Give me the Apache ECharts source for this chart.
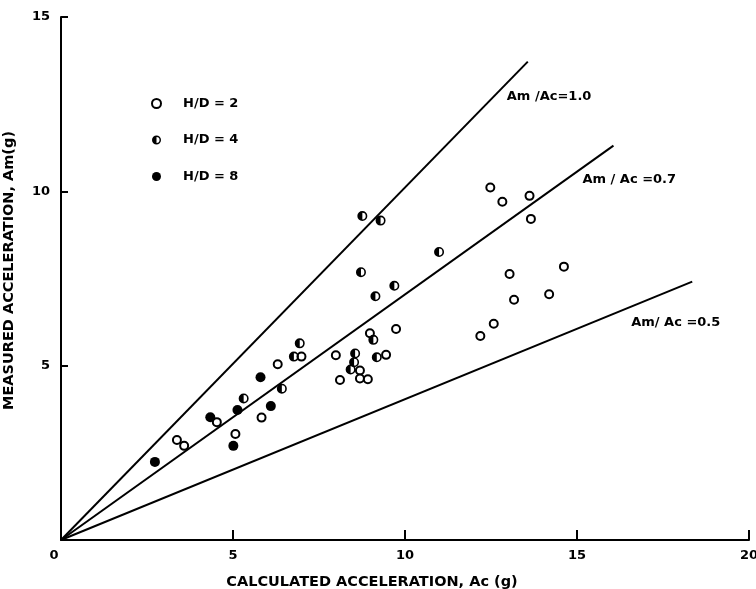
<!DOCTYPE html>
<html>
<head>
<meta charset="utf-8">
<script src="https://cdn.jsdelivr.net/npm/echarts@6/dist/echarts.min.js"></script>
<style>
html,body{margin:0;padding:0;background:#fff;overflow:hidden;}
#chart{width:756px;height:589px;}
</style>
</head>
<body>
<div id="chart"></div>
<script>
// ---- data ----
var seriesNames = ['H/D = 2', 'H/D = 4', 'H/D = 8'];

var hd2 = [[3.37,2.87],[3.58,2.70],[4.53,3.38],[5.07,3.04],[5.83,3.51],[6.30,5.04],[6.99,5.26],
  [7.99,5.30],[8.11,4.59],[8.69,4.86],[8.69,4.63],[8.92,4.61],[8.98,5.93],[9.45,5.31],[9.74,6.05],
  [12.48,10.11],[12.83,9.70],[13.62,9.87],[13.66,9.21],[13.04,7.63],[14.62,7.84],[13.17,6.89],
  [14.19,7.05],[12.58,6.20],[12.19,5.85]];

var hd4 = [[5.31,4.06],[6.42,4.34],[6.77,5.26],[6.94,5.64],[8.55,5.35],[8.52,5.10],[8.42,4.89],
  [9.08,5.74],[9.18,5.24],[8.76,9.29],[9.29,9.16],[10.99,8.26],[8.72,7.68],[9.69,7.29],[9.14,6.99]];

var hd8 = [[2.73,2.24],[4.34,3.52],[5.01,2.70],[5.13,3.73],[5.80,4.67],[6.10,3.84]];

var lineLabels = ['Am /Ac=1.0', 'Am / Ac =0.7', 'Am/ Ac =0.5'];
var lineEnds = [[13.57,13.72],[16.06,11.31],[18.35,7.41]];

var xTicks = [0, 5, 10, 15, 20];
var yTicks = [0, 5, 10, 15];
var xTitle = 'CALCULATED ACCELERATION, Ac (g)';
var yTitle = 'MEASURED ACCELERATION, Am(g)';

// ---- styling ----
var FONT = 'DejaVu Sans';
var halfPath = 'path://M10,0 A10,10 0 1,1 10,20 A10,10 0 1,1 10,0 Z M10,3.2 L10,16.8 A6.8,6.8 0 0,0 10,3.2 Z';
var labelOffsets = [[-21,35],[-31,34],[-61,41]];
var txt = {fontFamily:FONT, fontSize:13, fontWeight:'bold', color:'#000'};

var chart = echarts.init(document.getElementById('chart'), null, {renderer:'canvas'});

var lineSeries = lineEnds.map(function(end, i){
  return {
    type:'line',
    name:lineLabels[i],
    data:[[0,0], {value:end, label:Object.assign({show:true, formatter:lineLabels[i], position:labelOffsets[i],
      align:'left', verticalAlign:'middle'}, txt)}],
    symbol:'circle', symbolSize:0, showSymbol:true,
    lineStyle:{color:'#000', width:2},
    itemStyle:{color:'#000'},
    silent:true, z:1
  };
});

var option = {
  backgroundColor:'#fff',
  animation:false,
  grid:{left:61, right:7, top:17, bottom:49, containLabel:false, outerBoundsMode:'none'},
  legend:{
    data:seriesNames,
    orient:'vertical',
    left:146, top:92,
    itemWidth:9, itemHeight:9, itemGap:23.5,
    textStyle:Object.assign({padding:[0,0,0,17]}, txt),
    selectedMode:false
  },
  xAxis:{
    type:'value', min:0, max:20, interval:5,
    name:xTitle, nameLocation:'middle', nameGap:35,
    nameTextStyle:{fontFamily:FONT, fontSize:14.5, fontWeight:'bold', color:'#000', padding:[0,66,0,0]},
    axisLine:{show:true, onZero:false, lineStyle:{color:'#000', width:2}},
    axisTick:{show:true, inside:true, length:10, lineStyle:{color:'#000', width:2}},
    axisLabel:Object.assign({margin:9,
      formatter:function(v){ return v===0 ? '{z|0}' : String(v); },
      rich:{z:Object.assign({padding:[0,14,0,0]}, txt)}}, txt),
    splitLine:{show:false}
  },
  yAxis:{
    type:'value', min:0, max:15, interval:5,
    name:yTitle, nameLocation:'middle', nameGap:44, nameRotate:90,
    nameTextStyle:{fontFamily:FONT, fontSize:14.5, fontWeight:'bold', color:'#000', padding:[0,0,0,16]},
    axisLine:{show:true, onZero:false, lineStyle:{color:'#000', width:2}},
    axisTick:{show:true, inside:true, length:7, lineStyle:{color:'#000', width:2}},
    axisLabel:Object.assign({margin:11,
      formatter:function(v){ return v===0 ? '' : String(v); }}, txt),
    splitLine:{show:false}
  },
  series: lineSeries.concat([
    {type:'scatter', name:seriesNames[0], data:hd2, symbol:'circle', symbolSize:8,
      itemStyle:{color:'#fff', borderColor:'#000', borderWidth:2, opacity:1}, z:3},
    {type:'scatter', name:seriesNames[1], data:hd4, symbol:halfPath, symbolSize:10,
      itemStyle:{color:'#000', opacity:1}, z:3},
    {type:'scatter', name:seriesNames[2], data:hd8, symbol:'circle', symbolSize:10,
      itemStyle:{color:'#000', opacity:1}, z:3}
  ])
};
chart.setOption(option);
</script>
</body>
</html>
